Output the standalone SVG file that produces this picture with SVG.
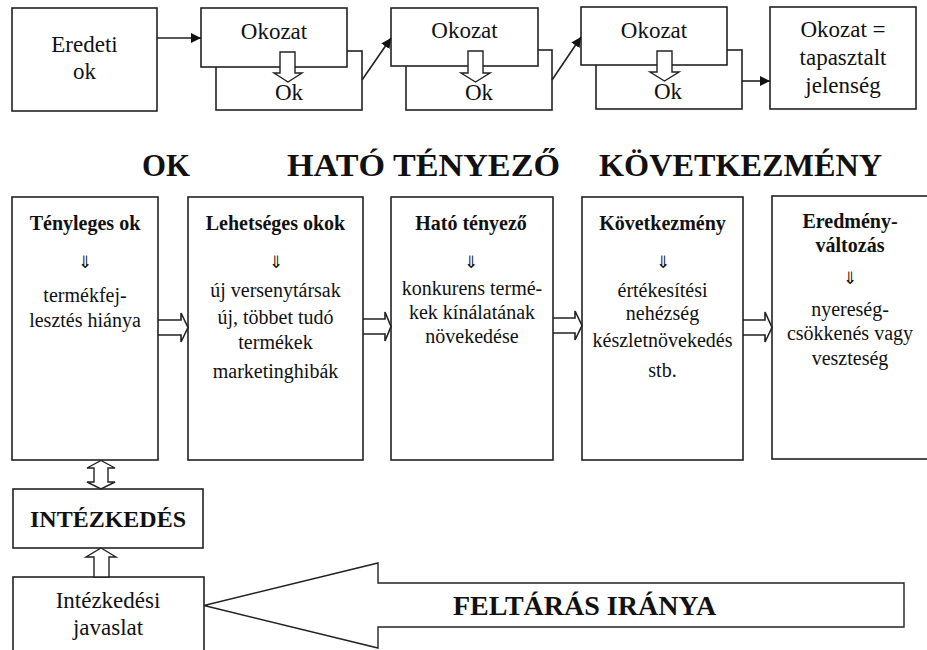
<svg xmlns="http://www.w3.org/2000/svg" width="927" height="650" viewBox="0 0 927 650">
<style>
.box{fill:#fff;stroke:#222;stroke-width:1.6}
.ln{fill:none;stroke:#222;stroke-width:1.6}
.hol{fill:#fff;stroke:#222;stroke-width:1.4;stroke-linejoin:miter}
</style>
<defs>
<marker id="ah" viewBox="0 0 10 10" refX="10" refY="5" markerWidth="10" markerHeight="10" markerUnits="userSpaceOnUse" orient="auto">
<path d="M0,0 L10,5 L0,10 Z" fill="#111"/>
</marker>
</defs>
<rect width="927" height="650" fill="#fff"/>

<g font-family="Liberation Serif, serif" fill="#111" text-anchor="middle">

<g id="eredeti-ok" font-size="23">
<rect class="box" x="12" y="8" width="145" height="103"/>
<text x="84.5" y="52">Eredeti</text>
<text x="84.5" y="79">ok</text>
</g>

<g id="okozat-1" font-size="23">
<rect class="box" x="216" y="51" width="146" height="59"/>
<rect class="box" x="201" y="8" width="146" height="59"/>
<text x="274" y="39">Okozat</text>
<path class="hol" d="M280,52 H295 V73 H302 L288,82 L274,73 H280 Z"/>
<text x="289" y="100">Ok</text>
</g>

<g id="okozat-2" font-size="23">
<rect class="box" x="406" y="50" width="146" height="60"/>
<rect class="box" x="391" y="8" width="147" height="58"/>
<text x="464.5" y="38">Okozat</text>
<path class="hol" d="M468,51 H483 V73 H490 L475.5,82 L461,73 H468 Z"/>
<text x="479" y="100">Ok</text>
</g>

<g id="okozat-3" font-size="23">
<rect class="box" x="596" y="50" width="146" height="59"/>
<rect class="box" x="581" y="7" width="146" height="58"/>
<text x="654" y="38">Okozat</text>
<path class="hol" d="M657,51 H672 V72 H679 L664.5,81 L650,72 H657 Z"/>
<text x="668" y="99">Ok</text>
</g>

<g id="okozat-jelenseg" font-size="23">
<rect class="box" x="770" y="7" width="146" height="102"/>
<text x="843" y="37">Okozat =</text>
<text x="843" y="65">tapasztalt</text>
<text x="843" y="93">jelenség</text>
</g>

<g id="headings" font-weight="bold" font-size="31" text-anchor="start">
<text x="142" y="176" textLength="48" lengthAdjust="spacingAndGlyphs">OK</text>
<text x="287" y="176" textLength="273" lengthAdjust="spacingAndGlyphs">HATÓ TÉNYEZŐ</text>
<text x="599" y="176" textLength="283" lengthAdjust="spacingAndGlyphs">KÖVETKEZMÉNY</text>
</g>

<g id="tenyleges-ok" font-size="20">
<rect class="box" x="12" y="197" width="146" height="263"/>
<text x="85" y="230" font-weight="bold">Tényleges ok</text>
<text x="85" y="268" font-size="17">⇓</text>
<text x="85" y="302">termékfej-</text>
<text x="85" y="327">lesztés hiánya</text>
</g>

<g id="lehetseges-okok" font-size="20">
<rect class="box" x="188" y="197" width="175" height="263"/>
<text x="275.5" y="230" font-weight="bold">Lehetséges okok</text>
<text x="275.5" y="268" font-size="17">⇓</text>
<text x="275.5" y="297">új versenytársak</text>
<text x="275.5" y="324">új, többet tudó</text>
<text x="275.5" y="349">termékek</text>
<text x="275.5" y="378">marketinghibák</text>
</g>

<g id="hato-tenyezo" font-size="20">
<rect class="box" x="391" y="197" width="162" height="263"/>
<text x="471" y="230" font-weight="bold">Ható tényező</text>
<text x="471" y="268" font-size="17">⇓</text>
<text x="472" y="295">konkurens termé-</text>
<text x="472" y="319">kek kínálatának</text>
<text x="472" y="343">növekedése</text>
</g>

<g id="kovetkezmeny" font-size="20">
<rect class="box" x="582" y="197" width="161" height="263"/>
<text x="662.5" y="230" font-weight="bold">Következmény</text>
<text x="662.5" y="268" font-size="17">⇓</text>
<text x="662.5" y="297">értékesítési</text>
<text x="662.5" y="320">nehézség</text>
<text x="662.5" y="347">készletnövekedés</text>
<text x="662.5" y="377">stb.</text>
</g>

<g id="eredmenyvaltozas" font-size="20">
<rect class="box" x="772" y="196" width="158" height="263"/>
<text x="850" y="228" font-weight="bold">Eredmény-</text>
<text x="850" y="252" font-weight="bold">változás</text>
<text x="850" y="284" font-size="17">⇓</text>
<text x="850" y="316">nyereség-</text>
<text x="850" y="340">csökkenés vagy</text>
<text x="850" y="365">veszteség</text>
</g>

<g id="intezkedes">
<rect class="box" x="13" y="489" width="190" height="59"/>
<text x="108" y="527" font-size="24" font-weight="bold">INTÉZKEDÉS</text>
</g>

<g id="intezkedesi-javaslat" font-size="23">
<rect class="box" x="13" y="577" width="191" height="80"/>
<text x="108" y="608">Intézkedési</text>
<text x="108" y="635">javaslat</text>
</g>

<g id="connectors">
<line class="ln" x1="157" y1="38" x2="201" y2="38" marker-end="url(#ah)"/>
<line class="ln" x1="362" y1="80" x2="391" y2="38" marker-end="url(#ah)"/>
<line class="ln" x1="552" y1="80" x2="581" y2="37" marker-end="url(#ah)"/>
<line class="ln" x1="742" y1="81" x2="770" y2="81" marker-end="url(#ah)"/>
<path class="ln" d="M158,320 H181 V313 L188,327.5 L181,342 V335 H158"/>
<path class="ln" d="M363,319 H385 V312 L391,326.5 L385,341 V334 H363"/>
<path class="ln" d="M553,318 H575 V311 L582,325.5 L575,340 V333 H553"/>
<path class="ln" d="M743,320 H765 V312 L772,327.5 L765,342 V335 H743"/>
<path class="hol" d="M101,460.5 L115,468 H108 V482 H115 L101,489 L87,482 H94 V468 H87 Z"/>
<path class="hol" d="M101,548 L116,557 H109 V577 H94 V557 H86 Z"/>
<path class="hol" d="M204,605.5 L378,563 V583 H904 V627 H378 V648 Z"/>
<text x="453" y="615" font-size="28" font-weight="bold" text-anchor="start">FELTÁRÁS IRÁNYA</text>
</g>

</g>
</svg>
